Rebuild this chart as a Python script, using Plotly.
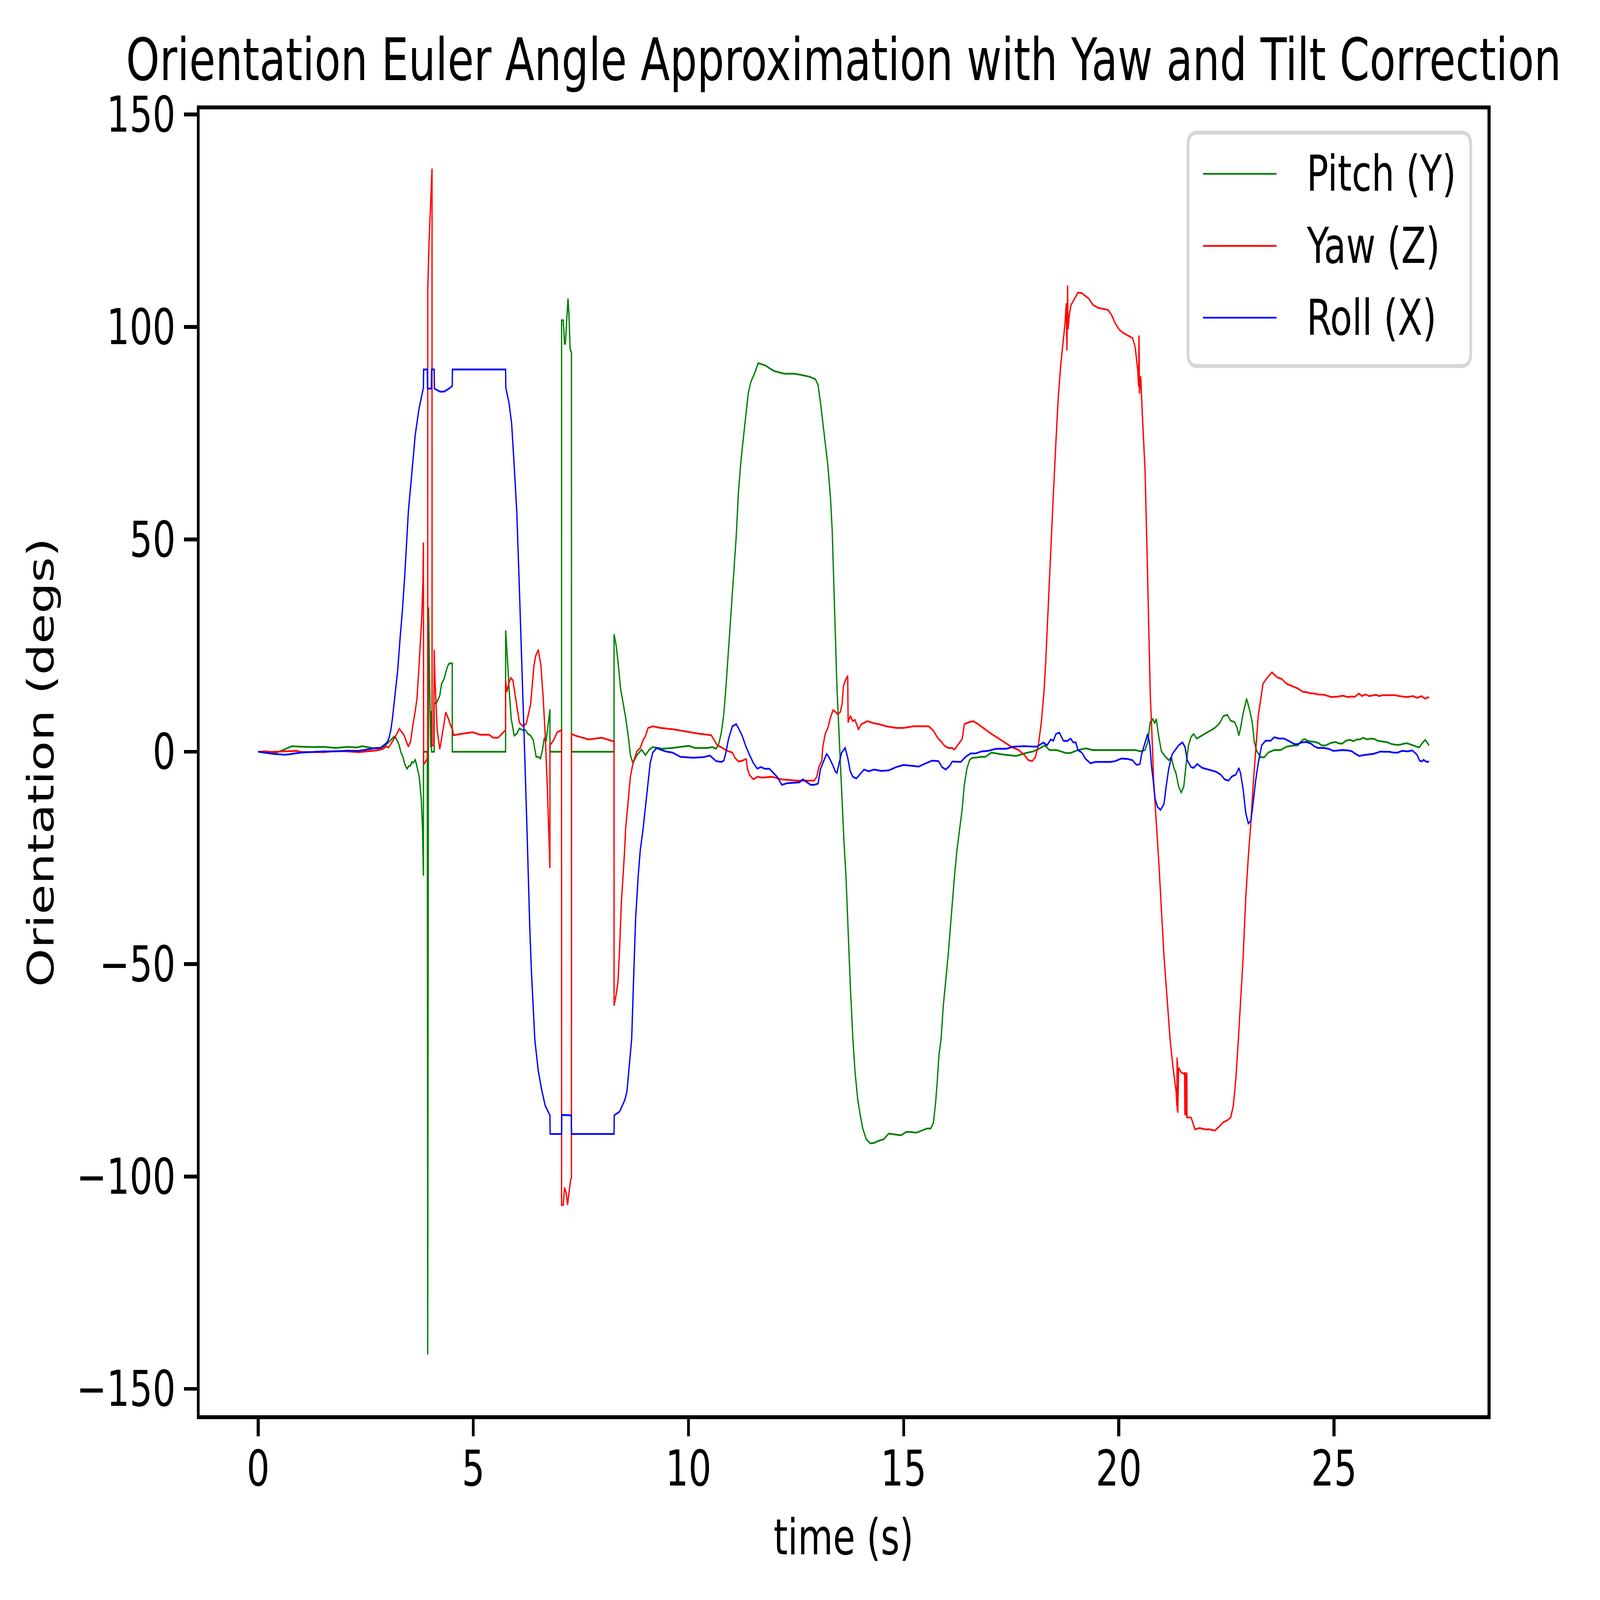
import plotly.graph_objects as go

# ---------------- data ----------------
pitch_points = [
    (0.00, 0.0), (0.18, -0.1), (0.40, -0.25), (0.59, 0.45), (0.70, 1.0), (0.78, 1.3), (0.99, 1.2),
    (1.26, 1.1), (1.53, 1.15), (1.80, 0.9), (2.07, 1.15), (2.29, 1.0), (2.42, 1.3), (2.58, 1.0),
    (2.69, 0.8), (2.84, 0.8), (2.90, 1.15), (3.01, 2.0), (3.09, 2.8), (3.16, 3.6), (3.21, 3.1),
    (3.27, 1.7), (3.32, -0.2), (3.36, -1.1), (3.41, -3.0), (3.46, -4.0), (3.51, -3.3), (3.54, -3.3),
    (3.57, -2.4), (3.60, -2.6), (3.65, -1.9), (3.68, -3.0), (3.71, -4.4), (3.74, -5.7), (3.77, -8.8),
    (3.79, -11.1), (3.82, -18.3), (3.84, -29.2), (3.841, 0.0), (3.93, 0.0), (3.94, -141.9),
    (3.96, 34.0), (3.99, 13.2), (4.01, 1.0), (4.02, 9.6), (4.03, 0.0), (4.09, 0.0), (4.091, 11.4),
    (4.14, 11.4), (4.22, 13.2), (4.26, 15.9), (4.32, 17.2), (4.40, 20.1), (4.44, 20.8), (4.51, 20.8),
    (4.511, 0.0), (5.75, 0.0), (5.751, 28.6), (5.79, 22.3), (5.83, 15.0), (5.88, 7.8), (5.95, 3.8),
    (6.01, 4.2), (6.07, 5.5), (6.15, 5.1), (6.21, 5.1), (6.27, 4.2), (6.33, 3.8), (6.39, 2.8),
    (6.43, 0.6), (6.46, -1.2), (6.51, -1.2), (6.56, -1.6), (6.61, 0.6), (6.65, 3.3), (6.69, 2.4),
    (6.73, 5.9), (6.78, 10.0), (6.781, 0.0), (7.05, 0.0), (7.051, 101.6), (7.09, 101.6),
    (7.12, 95.9), (7.14, 96.2), (7.17, 101.6), (7.20, 106.7), (7.22, 103.4), (7.25, 94.8),
    (7.28, 94.0), (7.281, 0.0), (8.27, 0.0), (8.271, 27.7), (8.32, 25.0), (8.37, 20.4),
    (8.42, 15.0), (8.48, 11.5), (8.54, 8.0), (8.60, 3.7), (8.65, -0.8), (8.71, -2.7), (8.80, -0.8),
    (8.91, 0.5), (9.00, -0.8), (9.09, 0.5), (9.17, 1.1), (9.40, 0.7), (9.63, 0.9), (10.01, 1.4),
    (10.15, 0.9), (10.44, 0.9), (10.56, 1.1), (10.64, 0.7), (10.70, 1.7), (10.76, 4.3), (10.82, 8.8),
    (10.87, 15.1), (10.93, 24.0), (10.99, 33.0), (11.05, 41.9), (11.11, 50.8), (11.16, 61.0),
    (11.22, 68.6), (11.28, 74.3), (11.34, 80.1), (11.39, 84.5), (11.45, 87.1), (11.54, 89.2),
    (11.62, 91.5), (11.68, 91.3), (11.80, 90.9), (11.88, 90.3), (12.00, 89.6), (12.23, 89.0),
    (12.46, 89.0), (12.63, 88.7), (12.81, 88.3), (12.95, 87.7), (13.01, 86.4), (13.07, 82.0),
    (13.15, 75.0), (13.24, 67.3), (13.30, 59.7), (13.34, 52.1), (13.37, 41.9), (13.40, 31.7),
    (13.43, 21.5), (13.45, 15.1), (13.49, 6.2), (13.53, -2.7), (13.57, -11.6), (13.61, -20.5),
    (13.66, -29.4), (13.69, -37.1), (13.72, -46.0), (13.76, -54.9), (13.82, -67.6), (13.87, -75.3),
    (13.93, -81.6), (13.99, -85.5), (14.05, -88.7), (14.13, -91.2), (14.22, -92.2), (14.31, -92.1),
    (14.42, -91.6), (14.54, -91.2), (14.65, -89.9), (14.83, -90.1), (14.94, -90.3), (15.06, -89.5),
    (15.17, -89.5), (15.29, -89.7), (15.40, -89.3), (15.55, -88.7), (15.63, -88.7), (15.69, -87.4),
    (15.74, -82.9), (15.78, -77.8), (15.82, -71.5), (15.87, -67.6), (15.92, -60.0), (15.98, -53.6),
    (16.04, -47.3), (16.08, -42.2), (16.13, -35.8), (16.18, -29.4), (16.24, -23.1), (16.30, -18.0),
    (16.36, -13.5), (16.41, -7.8), (16.47, -4.0), (16.53, -2.0), (16.59, -1.4), (16.67, -1.4),
    (16.79, -1.2), (16.90, -1.2), (17.04, -0.2), (17.27, -0.6), (17.61, -1.0), (17.84, -0.3),
    (18.02, 0.1), (18.16, 0.8), (18.28, 1.5), (18.39, 0.4), (18.54, 0.4), (18.65, 0.1),
    (18.77, -0.3), (18.88, -0.3), (19.05, 0.4), (19.23, 0.8), (19.40, 0.4), (19.81, 0.4),
    (20.15, 0.4), (20.38, 0.4), (20.50, 0.1), (20.61, 0.4), (20.67, 2.2), (20.73, 7.0),
    (20.79, 7.7), (20.83, 6.7), (20.87, 7.7), (20.93, 3.5), (20.99, 0.1), (21.07, -1.0),
    (21.16, -2.0), (21.22, -1.3), (21.28, -3.8), (21.33, -5.1), (21.39, -8.2), (21.45, -9.6),
    (21.51, -8.2), (21.56, -3.3), (21.62, 1.5), (21.68, 3.5), (21.74, 4.2), (21.81, 3.1),
    (21.88, 3.5), (22.00, 4.2), (22.11, 4.9), (22.23, 5.6), (22.34, 6.7), (22.43, 8.4),
    (22.52, 8.7), (22.60, 7.3), (22.69, 7.0), (22.75, 5.6), (22.79, 3.8), (22.83, 5.6),
    (22.89, 9.1), (22.97, 12.5), (23.04, 9.8), (23.10, 7.0), (23.15, 2.2), (23.21, 0.1),
    (23.30, -1.3), (23.38, -1.3), (23.47, -0.2), (23.61, 0.4), (23.76, 0.4), (23.90, 1.2),
    (24.08, 1.5), (24.16, 1.5), (24.24, 2.5), (24.31, 3.0), (24.41, 2.5), (24.56, 2.3),
    (24.65, 2.0), (24.71, 1.5), (24.81, 1.5), (24.93, 2.1), (25.04, 2.3), (25.10, 2.0),
    (25.19, 1.9), (25.28, 2.6), (25.38, 2.8), (25.45, 2.5), (25.53, 2.9), (25.61, 2.9),
    (25.67, 3.3), (25.78, 2.9), (25.85, 3.1), (25.93, 3.05), (26.01, 2.6), (26.13, 2.4),
    (26.25, 2.2), (26.34, 1.8), (26.47, 1.6), (26.56, 1.7), (26.62, 1.9), (26.70, 2.0),
    (26.81, 1.6), (26.90, 1.3), (26.98, 1.0), (27.05, 2.0), (27.12, 2.8), (27.21, 1.5),
]

yaw_points = [
    (0.00, 0.0), (0.18, 0.1), (0.29, -0.05), (0.72, 0.1), (0.89, 0.2), (0.99, -0.05), (1.26, -0.1),
    (1.53, -0.1), (1.80, 0.15), (2.07, 0.1), (2.34, -0.1), (2.61, 0.2), (2.74, 0.3), (2.88, 0.6),
    (2.93, 0.9), (2.97, 1.3), (3.03, 1.0), (3.07, 1.6), (3.12, 2.5), (3.19, 3.6), (3.28, 5.4),
    (3.34, 4.5), (3.39, 3.9), (3.44, 2.5), (3.49, 1.2), (3.54, 2.3), (3.59, 5.9), (3.65, 9.6),
    (3.69, 12.5), (3.74, 20.4), (3.80, 31.3), (3.83, 40.3), (3.84, 49.3), (3.845, -3.0),
    (3.93, -1.7), (3.94, -0.3), (3.941, 108.8), (3.97, 119.7), (4.01, 130.5), (4.04, 137.3),
    (4.041, 1.5), (4.08, 1.5), (4.09, 24.0), (4.11, 16.8), (4.16, 5.1), (4.22, 0.6), (4.28, 4.2),
    (4.36, 9.3), (4.42, 7.8), (4.48, 6.0), (4.52, 5.1), (4.54, 3.9), (4.72, 4.2), (4.98, 4.6),
    (5.16, 4.0), (5.37, 4.0), (5.46, 3.3), (5.58, 3.3), (5.66, 4.2), (5.75, 5.1), (5.751, 16.8),
    (5.78, 14.1), (5.82, 15.9), (5.87, 17.4), (5.92, 16.8), (5.99, 12.0), (6.07, 6.9), (6.15, 6.0),
    (6.23, 6.6), (6.33, 11.1), (6.41, 20.4), (6.45, 22.6), (6.51, 24.0), (6.57, 20.4), (6.62, 13.2),
    (6.67, 4.2), (6.72, -8.4), (6.76, -21.1), (6.78, -27.4), (6.781, 1.5), (6.87, 2.8), (6.95, 4.6),
    (7.05, 5.1), (7.051, -106.7), (7.09, -106.7), (7.12, -102.6), (7.16, -104.0), (7.19, -106.7),
    (7.23, -103.1), (7.26, -100.8), (7.28, -100.4), (7.281, 4.2), (7.37, 3.8), (7.68, 2.9),
    (7.98, 3.3), (8.27, 2.4), (8.271, -59.8), (8.32, -57.1), (8.36, -54.4), (8.40, -46.3),
    (8.44, -35.5), (8.48, -29.5), (8.51, -24.3), (8.54, -18.0), (8.60, -11.0), (8.65, -5.9),
    (8.71, -2.7), (8.80, 0.1), (8.88, 0.9), (8.94, 2.6), (9.00, 3.7), (9.06, 5.6), (9.17, 6.0),
    (9.35, 5.6), (9.63, 5.3), (9.98, 4.7), (10.21, 4.3), (10.53, 3.9), (10.61, 2.6), (10.67, 1.5),
    (10.76, 1.1), (10.85, 0.5), (10.93, 0.1), (11.02, -0.2), (11.08, -1.4), (11.16, -2.3),
    (11.25, -2.1), (11.34, -1.7), (11.37, -4.0), (11.42, -5.5), (11.51, -6.5), (11.60, -5.9),
    (11.71, -6.1), (11.94, -5.9), (12.17, -6.5), (12.52, -6.8), (12.75, -6.8), (12.92, -6.8),
    (12.98, -5.9), (13.04, -3.3), (13.10, -2.1), (13.12, 1.1), (13.18, 4.3), (13.24, 5.6),
    (13.30, 8.1), (13.36, 9.8), (13.41, 9.4), (13.47, 8.8), (13.53, 9.4), (13.57, 11.3),
    (13.60, 15.4), (13.64, 16.7), (13.70, 17.9), (13.704, 7.0), (13.707, 17.5), (13.71, 6.9),
    (13.76, 8.5), (13.82, 7.2), (13.87, 7.5), (13.95, 5.3), (14.02, 6.5), (14.16, 7.2),
    (14.31, 6.7), (14.42, 6.5), (14.60, 6.0), (14.83, 5.6), (15.00, 5.6), (15.23, 6.0),
    (15.40, 6.0), (15.58, 6.0), (15.69, 5.0), (15.78, 3.4), (15.87, 2.4), (15.95, 1.4),
    (16.04, 0.9), (16.13, 0.9), (16.18, 0.5), (16.27, 1.8), (16.36, 3.0), (16.41, 6.5),
    (16.50, 6.9), (16.62, 7.2), (16.73, 6.5), (16.85, 5.6), (17.04, 4.2), (17.21, 3.1),
    (17.35, 2.2), (17.50, 1.2), (17.67, 0.4), (17.79, -0.6), (17.90, -2.0), (17.99, -2.2),
    (18.06, -1.3), (18.13, 1.5), (18.20, 7.0), (18.26, 13.9), (18.30, 20.8), (18.36, 34.6),
    (18.42, 48.4), (18.48, 60.8), (18.54, 73.2), (18.59, 82.9), (18.65, 91.1), (18.71, 96.7),
    (18.75, 100.8), (18.78, 105.6), (18.795, 94.5), (18.81, 109.8), (18.82, 99.4), (18.85, 102.9),
    (18.89, 105.2), (18.97, 106.6), (19.05, 108.1), (19.14, 108.0), (19.23, 107.3), (19.31, 106.6),
    (19.40, 105.2), (19.52, 104.5), (19.63, 104.3), (19.75, 104.0), (19.83, 102.9), (19.92, 100.8),
    (20.01, 99.4), (20.09, 98.7), (20.21, 98.0), (20.32, 97.4), (20.38, 95.3), (20.44, 89.8),
    (20.46, 86.0), (20.47, 98.0), (20.48, 84.3), (20.51, 88.4), (20.55, 78.7), (20.61, 66.3),
    (20.66, 45.6), (20.70, 26.3), (20.73, 13.9), (20.77, 4.2), (20.81, -6.8), (20.87, -16.5),
    (20.93, -26.1), (20.99, -37.1), (21.05, -48.2), (21.12, -57.8), (21.19, -67.5), (21.26, -74.4),
    (21.33, -79.9), (21.35, -83.5), (21.355, -72.0), (21.36, -84.5), (21.365, -73.0),
    (21.37, -85.0), (21.39, -74.4), (21.45, -75.5), (21.51, -75.8), (21.53, -75.5),
    (21.535, -85.4), (21.54, -75.5), (21.545, -85.6), (21.57, -75.5), (21.575, -86.0),
    (21.58, -75.5), (21.585, -86.1), (21.68, -86.1), (21.77, -88.9), (21.88, -88.6),
    (22.00, -88.9), (22.11, -88.9), (22.23, -89.2), (22.34, -88.2), (22.43, -87.2), (22.52, -86.8),
    (22.60, -86.1), (22.66, -83.4), (22.72, -77.1), (22.78, -67.5), (22.83, -59.2), (22.89, -48.2),
    (22.95, -34.4), (23.01, -24.7), (23.07, -16.5), (23.12, -8.2), (23.18, 0.1), (23.24, 8.4),
    (23.30, 12.5), (23.35, 16.0), (23.44, 17.3), (23.56, 18.7), (23.67, 17.6), (23.79, 17.1),
    (23.90, 16.0), (24.08, 15.3), (24.16, 14.9), (24.28, 14.1), (24.38, 14.0), (24.44, 13.8),
    (24.56, 13.7), (24.62, 13.5), (24.78, 13.4), (24.93, 12.9), (25.08, 12.97), (25.21, 13.2),
    (25.31, 12.9), (25.42, 13.0), (25.48, 12.9), (25.58, 13.7), (25.65, 13.1), (25.73, 13.5),
    (25.82, 13.1), (25.98, 13.4), (26.05, 13.1), (26.13, 13.3), (26.25, 13.3), (26.41, 13.3),
    (26.59, 13.0), (26.71, 12.9), (26.84, 13.1), (26.93, 12.7), (27.04, 13.1), (27.11, 12.5),
    (27.21, 12.9),
]

roll_points = [
    (0.00, 0.0), (0.18, -0.25), (0.40, -0.55), (0.62, -0.7), (0.72, -0.6), (0.99, -0.2), (1.26, 0.0),
    (1.53, 0.1), (1.80, 0.1), (2.07, 0.25), (2.34, 0.2), (2.50, 0.45), (2.61, 0.6), (2.74, 0.9),
    (2.84, 0.9), (2.90, 1.4), (2.99, 2.1), (3.04, 3.2), (3.08, 5.0), (3.12, 7.8), (3.16, 11.4),
    (3.20, 15.6), (3.24, 18.9), (3.30, 27.0), (3.35, 33.0), (3.41, 42.1), (3.49, 56.5),
    (3.57, 65.5), (3.65, 74.6), (3.74, 80.9), (3.82, 84.8), (3.84, 85.7), (3.845, 90.0),
    (3.93, 90.0), (3.935, 85.5), (4.025, 85.5), (4.03, 90.0), (4.09, 90.0), (4.095, 85.5),
    (4.22, 84.8), (4.32, 84.8), (4.42, 85.4), (4.51, 86.1), (4.515, 90.0), (5.75, 90.0),
    (5.755, 85.7), (5.83, 82.1), (5.89, 77.3), (5.95, 67.3), (6.01, 56.5), (6.07, 38.5),
    (6.13, 20.4), (6.19, 0.6), (6.25, -19.2), (6.31, -40.9), (6.35, -51.7), (6.43, -67.9),
    (6.51, -75.2), (6.59, -79.7), (6.67, -83.3), (6.75, -85.1), (6.78, -85.6), (6.785, -90.0),
    (7.05, -90.0), (7.055, -85.5), (7.275, -85.6), (7.28, -90.0), (8.27, -90.0), (8.275, -85.6),
    (8.40, -84.7), (8.48, -82.9), (8.52, -82.0), (8.57, -80.0), (8.62, -74.0), (8.68, -67.6),
    (8.72, -54.9), (8.77, -39.6), (8.83, -29.4), (8.88, -23.1), (8.94, -18.6), (9.00, -12.9),
    (9.06, -7.2), (9.11, -2.7), (9.17, -0.2), (9.26, 0.9), (9.35, 0.5), (9.46, 0.1), (9.63, -0.2),
    (9.81, -1.2), (10.10, -1.4), (10.33, -1.3), (10.50, -0.9), (10.64, -2.2), (10.76, -2.4),
    (10.82, -2.1), (10.87, -0.2), (10.93, 3.0), (11.02, 6.0), (11.11, 6.5), (11.16, 5.6),
    (11.25, 3.7), (11.34, 1.1), (11.42, -0.8), (11.51, -2.7), (11.60, -4.0), (11.68, -3.6),
    (11.77, -4.0), (11.88, -4.0), (11.97, -5.0), (12.06, -5.9), (12.17, -7.8), (12.29, -7.4),
    (12.46, -7.3), (12.58, -7.2), (12.66, -6.5), (12.75, -7.2), (12.84, -7.8), (12.92, -7.8),
    (13.01, -7.5), (13.07, -4.0), (13.15, -2.1), (13.21, -0.5), (13.27, -1.4), (13.36, -3.3),
    (13.41, -4.6), (13.45, -5.0), (13.50, -2.7), (13.56, -0.2), (13.64, 0.9), (13.70, -1.4),
    (13.76, -4.6), (13.82, -5.9), (13.90, -6.3), (13.99, -5.3), (14.08, -4.2), (14.19, -4.6),
    (14.31, -4.2), (14.48, -4.5), (14.65, -4.4), (14.83, -3.6), (15.00, -3.1), (15.17, -3.3),
    (15.35, -3.5), (15.52, -2.7), (15.66, -2.1), (15.81, -2.2), (15.89, -3.6), (15.98, -4.2),
    (16.07, -3.3), (16.13, -2.3), (16.24, -2.3), (16.33, -2.4), (16.44, -1.2), (16.56, -0.4),
    (16.67, -0.4), (16.82, 0.1), (16.96, 0.2), (17.15, 0.7), (17.38, 0.7), (17.55, 1.2),
    (17.79, 1.3), (18.10, 1.2), (18.25, 2.2), (18.33, 1.5), (18.42, 2.9), (18.48, 2.6),
    (18.54, 4.2), (18.62, 4.5), (18.71, 2.6), (18.80, 2.5), (18.88, 3.1), (18.94, 2.2),
    (19.00, 2.2), (19.05, 0.4), (19.14, -0.2), (19.23, -1.7), (19.34, -2.7), (19.46, -2.4),
    (19.63, -2.4), (19.81, -2.4), (19.92, -2.2), (20.06, -1.6), (20.21, -1.7), (20.32, -2.0),
    (20.41, -3.1), (20.49, -2.9), (20.53, -0.6), (20.61, 2.2), (20.67, 4.2), (20.72, 1.8),
    (20.76, -3.4), (20.80, -6.8), (20.84, -10.9), (20.90, -13.0), (20.97, -13.7), (21.05, -12.3),
    (21.10, -8.2), (21.16, -4.0), (21.24, -0.6), (21.31, 0.4), (21.39, 1.5), (21.48, 2.2),
    (21.54, 1.1), (21.59, -2.0), (21.68, -3.6), (21.74, -3.8), (21.82, -2.9), (21.94, -3.8),
    (22.11, -4.3), (22.26, -4.7), (22.37, -5.4), (22.46, -6.5), (22.55, -6.8), (22.63, -5.8),
    (22.72, -5.4), (22.79, -3.8), (22.83, -5.1), (22.89, -8.9), (22.95, -14.4), (23.01, -16.9),
    (23.07, -16.2), (23.12, -12.3), (23.18, -6.8), (23.24, -2.7), (23.32, 1.5), (23.41, 2.6),
    (23.53, 2.6), (23.61, 3.4), (23.73, 3.1), (23.84, 3.1), (23.96, 2.5), (24.08, 1.8),
    (24.16, 1.8), (24.25, 2.2), (24.36, 2.3), (24.47, 1.9), (24.54, 1.3), (24.62, 0.9),
    (24.78, 0.9), (24.90, 0.6), (24.98, 0.2), (25.08, 0.3), (25.21, 0.4), (25.33, 0.3),
    (25.42, 0.1), (25.50, -0.5), (25.59, -1.0), (25.67, -0.8), (25.79, -0.7), (25.91, -0.5),
    (26.01, -0.2), (26.08, 0.05), (26.19, 0.0), (26.28, 0.0), (26.39, -0.2), (26.48, -0.2),
    (26.58, 0.2), (26.71, 0.1), (26.82, 0.3), (26.88, -0.3), (26.93, -0.7), (26.99, -2.1),
    (27.04, -2.3), (27.08, -1.9), (27.16, -2.4), (27.21, -2.3),
]

series_names = ["Pitch (Y)", "Yaw (Z)", "Roll (X)"]
series_colors = ["green", "red", "blue"]

x_tickvals = [0, 5, 10, 15, 20, 25]
x_ticktext = ["0", "5", "10", "15", "20", "25"]
y_tickvals = [-150, -100, -50, 0, 50, 100, 150]
y_ticktext = ["\u2212150", "\u2212100", "\u221250", "0", "50", "100", "150"]

title_text = "Orientation Euler Angle Approximation with Yaw and Tilt Correction"
x_label = "time (s)"
y_label = "Orientation (degs)"

# ---------------- layout constants (pixels) ----------------
W, H = 6163, 4528
L, R, T, B = 769, 5730, 310, 4005
FONT = "DejaVu Sans"
TICK_FS = 139
TITLE_FS = 165
LINE_W = 5


def px_x(px):
    return (px - L) / (R - L)


def px_y(py):
    return (B - py) / (B - T)


fig = go.Figure()
for pts, name, color in zip([pitch_points, yaw_points, roll_points], series_names, series_colors):
    fig.add_trace(go.Scatter(
        x=[p[0] for p in pts], y=[p[1] for p in pts],
        mode="lines", name=name, showlegend=False,
        line=dict(color=color, width=LINE_W),
        hoverinfo="skip",
    ))

axis_common = dict(
    showline=True, linecolor="black", linewidth=11, mirror=True,
    ticks="outside", ticklen=49, tickwidth=11, tickcolor="black",
    showgrid=False, zeroline=False, automargin=False,
    tickfont=dict(family=FONT, size=TICK_FS, color="black"),
)

fig.update_layout(
    width=W, height=H, autosize=False,
    margin=dict(l=L, r=W - R, t=T, b=H - B, pad=0),
    paper_bgcolor="white", plot_bgcolor="white",
    showlegend=False,
    xaxis=dict(range=[-1.36, 28.57], tickmode="array", tickvals=x_tickvals,
               ticktext=x_ticktext, ticklabelstandoff=-28, **axis_common),
    yaxis=dict(range=[-156.2, 151.2], tickmode="array", tickvals=y_tickvals,
               ticktext=y_ticktext, ticklabelstandoff=5, **axis_common),
)

annotations = []
# title (baseline ~228 px from top)
annotations.append(dict(
    text=title_text, x=0.5, y=1, xref="paper", yref="paper",
    xanchor="center", yanchor="bottom", yshift=T - (228 + 0.236 * TITLE_FS),
    showarrow=False, borderpad=0,
    font=dict(family=FONT, size=TITLE_FS, color="black"),
))
# x label (baseline ~4398 px)
annotations.append(dict(
    text=x_label, x=0.5, y=0, xref="paper", yref="paper",
    xanchor="center", yanchor="top", yshift=-((4398 - 0.928 * TICK_FS) - B),
    showarrow=False, borderpad=0,
    font=dict(family=FONT, size=TICK_FS, color="black"),
))
# y label (rotated, centre ~158 px from left)
annotations.append(dict(
    text=y_label, x=0, y=0.5, xref="paper", yref="paper",
    xanchor="center", yanchor="middle", xshift=158 - L, textangle=-90,
    showarrow=False, borderpad=0,
    font=dict(family=FONT, size=TICK_FS, color="black"),
))

# ---------------- legend (matplotlib-style box) ----------------
lx0, lx1, ly0, ly1, rad = 4576, 5665, 375, 1036, 36
p = lambda x, y: f"{px_x(x):.6f},{px_y(y):.6f}"
legend_path = (
    f"M {p(lx0 + rad, ly0)} L {p(lx1 - rad, ly0)} Q {p(lx1, ly0)} {p(lx1, ly0 + rad)} "
    f"L {p(lx1, ly1 - rad)} Q {p(lx1, ly1)} {p(lx1 - rad, ly1)} "
    f"L {p(lx0 + rad, ly1)} Q {p(lx0, ly1)} {p(lx0, ly1 - rad)} "
    f"L {p(lx0, ly0 + rad)} Q {p(lx0, ly0)} {p(lx0 + rad, ly0)} Z"
)
shapes = [dict(type="path", path=legend_path, xref="paper", yref="paper",
               fillcolor="rgba(255,255,255,0.8)", line=dict(color="#d6d6d6", width=11),
               layer="above")]
entry_y = [492, 696, 899]
for name, color, ey in zip(series_names, series_colors, entry_y):
    shapes.append(dict(type="line", xref="paper", yref="paper",
                       x0=px_x(4634), x1=px_x(4917), y0=px_y(ey), y1=px_y(ey),
                       line=dict(color=color, width=LINE_W), layer="above"))
    annotations.append(dict(
        text=name, x=px_x(5032), y=px_y(ey), xref="paper", yref="paper",
        xanchor="left", yanchor="middle", showarrow=False, borderpad=0,
        font=dict(family=FONT, size=TICK_FS, color="black"),
    ))

fig.update_layout(annotations=annotations, shapes=shapes)

# The page is meant for a 6163x4528 window; if the browser viewport turns out
# smaller, stretch the figure so it still fills the window exactly as the
# 6163x4528 picture would (nothing cut off).
fit_js = """
(function(){
  var gd = document.getElementById('{plot_id}');
  document.documentElement.style.margin = '0';
  document.body.style.margin = '0';
  document.body.style.overflow = 'hidden';
  function fit(){
    var sx = window.innerWidth / %d, sy = window.innerHeight / %d;
    gd.style.transformOrigin = '0 0';
    gd.style.transform = 'scale(' + sx + ',' + sy + ')';
  }
  fit();
  window.addEventListener('resize', fit);
})();
""" % (W, H)

fig.write_html("out.html", post_script=fit_js,
               config={"displayModeBar": False, "staticPlot": True})
